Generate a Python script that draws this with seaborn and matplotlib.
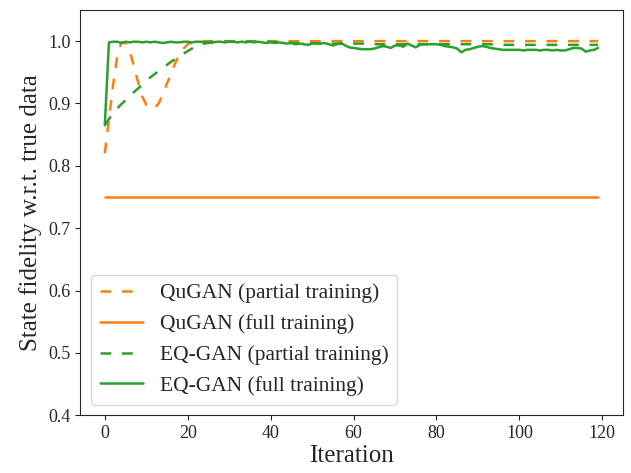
import matplotlib
matplotlib.use("Agg")
import matplotlib.pyplot as plt
import seaborn as sns
import numpy as np

# iteration axis
iterations = np.arange(120)

# QuGAN, partial training (orange dashed)
qugan_partial = [
    0.820, 0.875, 0.930, 0.975, 0.998, 0.997, 0.985, 0.960, 0.935, 0.912,
    0.898, 0.892, 0.893, 0.900, 0.915, 0.932, 0.948, 0.965, 0.978, 0.988,
    0.995, 0.998, 0.999, 1.000, 1.000, 1.000, 1.000, 1.000, 1.000, 1.000,
    1.000, 1.000, 1.000, 1.000, 1.000, 1.000, 1.000, 1.000, 1.000, 1.000,
    1.000, 1.000, 1.000, 1.000, 1.000, 1.000, 1.000, 1.000, 1.000, 1.000,
    1.000, 1.000, 1.000, 1.000, 1.000, 1.000, 1.000, 1.000, 1.000, 1.000,
    1.000, 1.000, 1.000, 1.000, 1.000, 1.000, 1.000, 1.000, 1.000, 1.000,
    1.000, 1.000, 1.000, 1.000, 1.000, 1.000, 1.000, 1.000, 1.000, 1.000,
    1.000, 1.000, 1.000, 1.000, 1.000, 1.000, 1.000, 1.000, 1.000, 1.000,
    1.000, 1.000, 1.000, 1.000, 1.000, 1.000, 1.000, 1.000, 1.000, 1.000,
    1.000, 1.000, 1.000, 1.000, 1.000, 1.000, 1.000, 1.000, 1.000, 1.000,
    1.000, 1.000, 1.000, 1.000, 1.000, 1.000, 1.000, 1.000, 1.000, 1.000,
]

# QuGAN, full training (orange solid)
qugan_full = [
    0.75, 0.75, 0.75, 0.75, 0.75, 0.75, 0.75, 0.75, 0.75, 0.75,
    0.75, 0.75, 0.75, 0.75, 0.75, 0.75, 0.75, 0.75, 0.75, 0.75,
    0.75, 0.75, 0.75, 0.75, 0.75, 0.75, 0.75, 0.75, 0.75, 0.75,
    0.75, 0.75, 0.75, 0.75, 0.75, 0.75, 0.75, 0.75, 0.75, 0.75,
    0.75, 0.75, 0.75, 0.75, 0.75, 0.75, 0.75, 0.75, 0.75, 0.75,
    0.75, 0.75, 0.75, 0.75, 0.75, 0.75, 0.75, 0.75, 0.75, 0.75,
    0.75, 0.75, 0.75, 0.75, 0.75, 0.75, 0.75, 0.75, 0.75, 0.75,
    0.75, 0.75, 0.75, 0.75, 0.75, 0.75, 0.75, 0.75, 0.75, 0.75,
    0.75, 0.75, 0.75, 0.75, 0.75, 0.75, 0.75, 0.75, 0.75, 0.75,
    0.75, 0.75, 0.75, 0.75, 0.75, 0.75, 0.75, 0.75, 0.75, 0.75,
    0.75, 0.75, 0.75, 0.75, 0.75, 0.75, 0.75, 0.75, 0.75, 0.75,
    0.75, 0.75, 0.75, 0.75, 0.75, 0.75, 0.75, 0.75, 0.75, 0.75,
]

# EQ-GAN, partial training (green dashed)
eqgan_partial = [
    0.865, 0.875, 0.884, 0.892, 0.899, 0.905, 0.912, 0.918, 0.924, 0.930,
    0.936, 0.942, 0.947, 0.952, 0.957, 0.962, 0.967, 0.971, 0.976, 0.980,
    0.984, 0.988, 0.991, 0.994, 0.996, 0.997, 0.998, 0.998, 0.999, 0.999,
    0.999, 0.999, 0.999, 0.999, 0.999, 0.999, 0.999, 0.999, 0.999, 0.999,
    0.999, 0.998, 0.998, 0.998, 0.998, 0.997, 0.997, 0.997, 0.997, 0.997,
    0.997, 0.996, 0.996, 0.996, 0.996, 0.996, 0.996, 0.996, 0.996, 0.996,
    0.996, 0.996, 0.996, 0.996, 0.995, 0.995, 0.995, 0.995, 0.995, 0.995,
    0.995, 0.995, 0.995, 0.995, 0.995, 0.995, 0.995, 0.995, 0.995, 0.995,
    0.995, 0.995, 0.995, 0.995, 0.995, 0.995, 0.995, 0.995, 0.995, 0.995,
    0.995, 0.995, 0.995, 0.995, 0.994, 0.994, 0.994, 0.994, 0.994, 0.994,
    0.994, 0.994, 0.994, 0.994, 0.994, 0.994, 0.994, 0.994, 0.994, 0.994,
    0.994, 0.994, 0.994, 0.994, 0.994, 0.994, 0.994, 0.994, 0.994, 0.994,
]

# EQ-GAN, full training (green solid)
eqgan_full = [
    0.865, 0.998, 0.999, 0.999, 0.997, 0.999, 0.998, 0.999, 0.999, 0.998,
    0.999, 0.998, 0.999, 0.998, 0.997, 0.998, 0.999, 0.998, 0.998, 0.999,
    0.999, 0.998, 0.999, 0.999, 0.998, 0.999, 0.998, 0.999, 0.999, 0.998,
    0.999, 0.999, 0.998, 0.999, 0.998, 0.999, 0.998, 0.999, 0.998, 0.997,
    0.998, 0.997, 0.998, 0.997, 0.996, 0.997, 0.995, 0.996, 0.995, 0.994,
    0.996, 0.997, 0.996, 0.997, 0.995, 0.993, 0.995, 0.997, 0.993, 0.990,
    0.989, 0.988, 0.987, 0.987, 0.987, 0.988, 0.990, 0.992, 0.991, 0.989,
    0.993, 0.993, 0.991, 0.996, 0.993, 0.990, 0.994, 0.995, 0.995, 0.995,
    0.995, 0.994, 0.992, 0.991, 0.990, 0.988, 0.982, 0.986, 0.987, 0.989,
    0.991, 0.992, 0.991, 0.989, 0.988, 0.987, 0.986, 0.986, 0.986, 0.986,
    0.986, 0.985, 0.986, 0.986, 0.986, 0.985, 0.986, 0.986, 0.985, 0.986,
    0.985, 0.985, 0.987, 0.989, 0.989, 0.988, 0.983, 0.985, 0.986, 0.989,
]

series = [
    ("QuGAN (partial training)", qugan_partial, "#ff7f0e", (0, (4.3, 4.3))),
    ("QuGAN (full training)", qugan_full, "#ff7f0e", "-"),
    ("EQ-GAN (partial training)", eqgan_partial, "#2ca02c", (0, (4.3, 4.3))),
    ("EQ-GAN (full training)", eqgan_full, "#2ca02c", "-"),
]

sns.set_theme(style="ticks")
plt.rcParams["font.family"] = ["Liberation Serif", "DejaVu Serif"]
plt.rcParams["mathtext.fontset"] = "stix"
plt.rcParams["axes.linewidth"] = 0.8
plt.rcParams["xtick.major.width"] = 0.8
plt.rcParams["ytick.major.width"] = 0.8
plt.rcParams["xtick.major.size"] = 3.5
plt.rcParams["ytick.major.size"] = 3.5

fig, ax = plt.subplots(figsize=(6.31, 4.73), dpi=100)
fig.subplots_adjust(left=0.127, right=0.987, top=0.979, bottom=0.122)

for nome, valores, cor, estilo in series:
    sns.lineplot(x=iterations, y=valores, ax=ax, color=cor, linestyle=estilo,
                 linewidth=1.8, label=nome)

ax.set_ylim(0.4, 1.05)
ax.set_xlabel("Iteration", fontsize=18, labelpad=2)
ax.set_ylabel("State fidelity w.r.t. true data", fontsize=18)
ax.tick_params(labelsize=13)
ax.legend(loc="lower left", fontsize=15.5, frameon=True)

plt.savefig("out.png", dpi=100)
plt.close()
